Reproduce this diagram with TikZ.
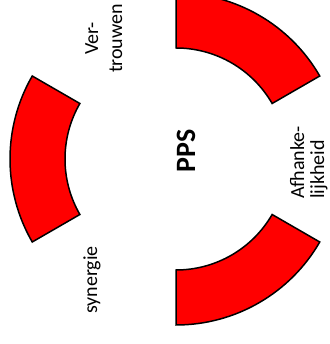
\documentclass[tikz,border=0pt]{standalone}
\usepackage{fontspec}
\setmainfont{Carlito}
\usetikzlibrary{calc}
\begin{document}
\begin{tikzpicture}[x=1pt,y=1pt,
  seg/.style={fill=red, draw=black, line width=1.5pt, line join=miter},
  lbl/.style={font=\fontsize{20}{24}\selectfont, inner sep=0pt, rotate=90, anchor=base},
]
\useasboundingbox (0,0) rectangle (329,344);
\clip (0,0) rectangle (329,344);
\coordinate (c) at (176,185);
\def\rin{111}\def\rout{166}
\draw[seg] ($(c)+(30:\rin)$) arc[start angle=30,end angle=90,radius=\rin] -- ($(c)+(90:\rout)$) arc[start angle=90,end angle=30,radius=\rout] -- cycle;
\draw[seg] ($(c)+(150:\rin)$) arc[start angle=150,end angle=210,radius=\rin] -- ($(c)+(210:\rout)$) arc[start angle=210,end angle=150,radius=\rout] -- cycle;
\draw[seg] ($(c)+(270:\rin)$) arc[start angle=270,end angle=330,radius=\rin] -- ($(c)+(330:\rout)$) arc[start angle=330,end angle=270,radius=\rout] -- cycle;
\node[lbl] (ver1) at (98,305.5) {Ver-};
\node[lbl] (ver2) at (122,305.5) {trouwen};
\node[lbl, anchor=base west] (afh1) at (304,145) {Afhanke-};
\node[lbl, anchor=base west] (afh2) at (324,145) {lijkheid};
\node[lbl] (syn) at (97,64) {synergie};
\node[lbl, font=\fontsize{28}{34}\selectfont\bfseries] (pps) at (195,193.5) {PPS};
\end{tikzpicture}
\end{document}
